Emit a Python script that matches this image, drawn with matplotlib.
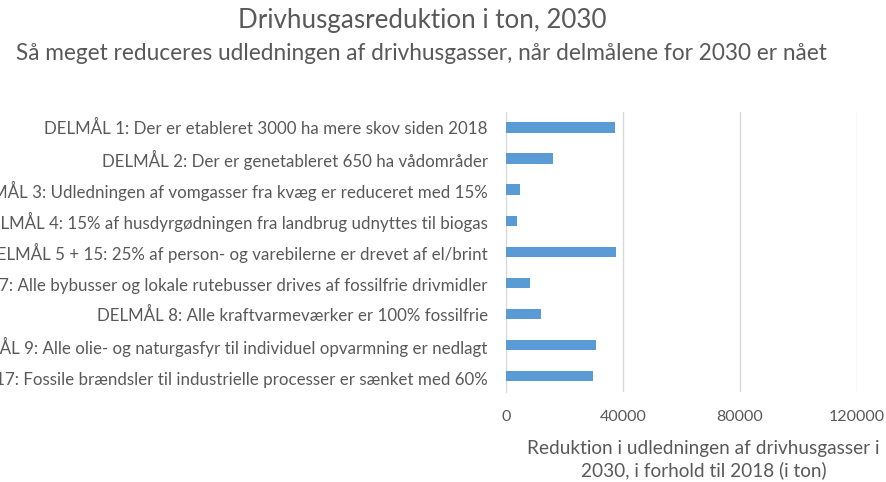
import matplotlib.pyplot as plt
import numpy as np

# Data
labels = [
    "DELMÅL 1: Der er etableret 3000 ha mere skov siden 2018",
    "DELMÅL 2: Der er genetableret 650 ha vådområder",
    "DELMÅL 3: Udledningen af vomgasser fra kvæg er reduceret med 15%",
    "DELMÅL 4: 15% af husdyrgødningen fra landbrug udnyttes til biogas",
    "DELMÅL 5 + 15: 25% af person- og varebilerne er drevet af el/brint",
    "DELMÅL 7: Alle bybusser og lokale rutebusser drives af fossilfrie drivmidler",
    "DELMÅL 8: Alle kraftvarmeværker er 100% fossilfrie",
    "DELMÅL 9: Alle olie- og naturgasfyr til individuel opvarmning er nedlagt",
    "DELMÅL 17: Fossile brændsler til industrielle processer er sænket med 60%",
]
values = [37200, 16200, 4900, 3900, 37700, 8100, 11900, 30700, 29700]
xticks = [0, 40000, 80000, 120000]

title = "Drivhusgasreduktion i ton, 2030"
subtitle = "Så meget reduceres udledningen af drivhusgasser, når delmålene for 2030 er nået"
xlabel = "Reduktion i udledningen af drivhusgasser i\n2030, i forhold til 2018 (i ton)"

txt = '#595959'
bar_col = '#5b9bd5'
grid_col = '#d9d9d9'

plt.rcParams['font.family'] = ['Lato', 'DejaVu Sans']

fig = plt.figure(figsize=(8.86, 4.82), dpi=100)
ax = fig.add_axes([0.571, 0.187, 0.396, 0.581])

y = np.arange(len(labels))
ax.barh(y, values, height=0.33, color=bar_col, zorder=3)
ax.set_ylim(len(labels) - 0.5, -0.5)
ax.set_xlim(0, 120000)
ax.set_xticks(xticks)
ax.set_xticklabels([str(v) for v in xticks], color=txt, fontsize=11.5)
ax.set_yticks(y)
ax.set_yticklabels(labels, color=txt, fontsize=12.2)
ax.tick_params(axis='both', length=0)
ax.tick_params(axis='x', pad=13)
ax.tick_params(axis='y', pad=13)
ax.grid(axis='x', color=grid_col, linewidth=1, zorder=0)
for s in ['top', 'right', 'bottom']:
    ax.spines[s].set_visible(False)
ax.spines['left'].set_color(grid_col)

fig.text(0.477, 0.958, title, ha='center', va='center', fontsize=18.7, color=txt)
fig.text(0.476, 0.888, subtitle, ha='center', va='center', fontsize=16.3, color=txt)
fig.text(0.794, 0.047, xlabel, ha='center', va='center', fontsize=13.7, color=txt,
         linespacing=1.3)

fig.savefig('out.png', dpi=100)
